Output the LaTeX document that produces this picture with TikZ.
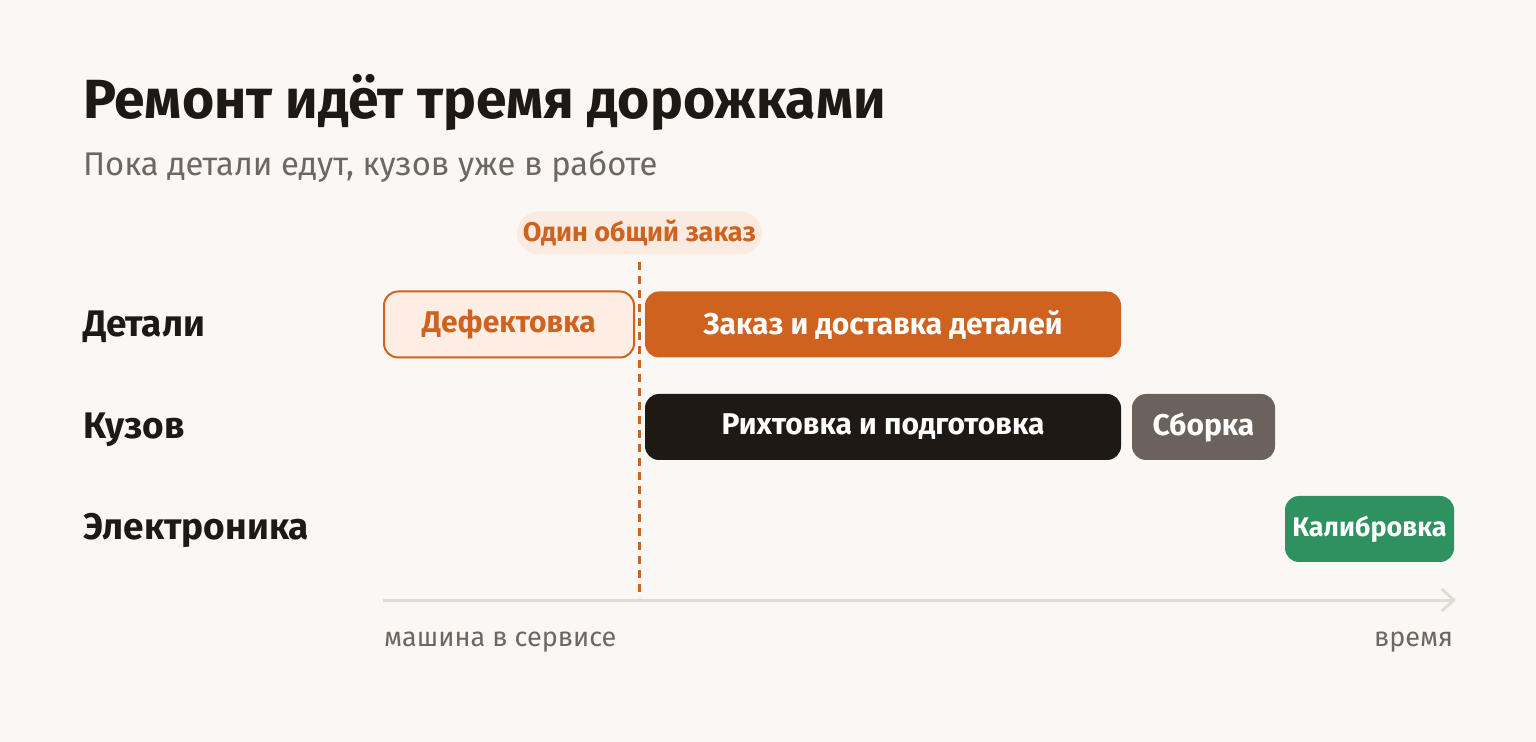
\documentclass[tikz,border=0pt]{standalone}
\usepackage{fontspec}
\setmainfont{Fira Sans}
\usepackage{xcolor}
\usetikzlibrary{arrows.meta,positioning,calc}
\definecolor{bgcol}{HTML}{FBF7F4}
\definecolor{inkcol}{HTML}{1E1915}
\definecolor{greycol}{HTML}{6E6661}
\definecolor{rustcol}{HTML}{D0621F}
\definecolor{peachcol}{HTML}{FDEDE2}
\definecolor{pillcol}{HTML}{FBEADF}
\definecolor{stonecol}{HTML}{6C625C}
\definecolor{leafcol}{HTML}{2E915F}
\definecolor{axiscol}{HTML}{E2DCD7}

\begin{document}
\begin{tikzpicture}[
	x=0.5pt, y=-0.5pt,
	every node/.style = {inner sep=0pt, outer sep=0pt},
	lane/.style = {anchor=base west, font=\fontsize{18.5}{22}\selectfont\bfseries, text=inkcol},
	bar/.style = {rounded corners=7pt, minimum height=33pt, align=center,
		font=\fontsize{15}{18}\selectfont\bfseries, text=white},
	note/.style = {font=\fontsize{13.5}{16}\selectfont, text=greycol}
]
\fill[bgcol] (0,0) rectangle (1536,742);
\useasboundingbox (0,0) rectangle (1536,742);

% heading
\node[anchor=base west, font=\fontsize{27.6}{32}\selectfont\bfseries, text=inkcol]
	(title) at (83,119) {Ремонт идёт тремя дорожками};
\node[anchor=base west, font=\fontsize{16.4}{19}\selectfont, text=greycol]
	(subtitle) at (83,176) {Пока детали едут, кузов уже в работе};

% lanes
\node[lane] (parts) at (83,337) {Детали};
\node[lane] (body) at (83,439) {Кузов};
\node[lane] (elec) at (83,540) {Электроника};

% milestone
\coordinate (cutTop) at (639,262);
\coordinate (cutBot) at (639,598);
\draw[rustcol, line width=1.5pt, dash pattern=on 4pt off 3pt] (cutTop) -- (cutBot);
\node[fill=pillcol, rounded corners=11pt, minimum width=122.5pt, minimum height=21.5pt,
	font=\fontsize{13.5}{16}\selectfont\bfseries, text=rustcol]
	(order) at (639.5,233) {Один общий заказ};

% bars
\node[bar, draw=rustcol, line width=1pt, fill=peachcol, text=rustcol, minimum width=125pt]
	(defect) at (509,324.5) {Дефектовка};
\node[bar, fill=rustcol, minimum width=238pt] (supply) at (883,324.5) {Заказ и доставка деталей};
\node[bar, fill=inkcol, minimum width=238pt] (prep) at (883,427) {Рихтовка и подготовка};
\node[bar, fill=stonecol, minimum width=71.5pt] (build) at (1203.5,427) {Сборка};
\node[bar, fill=leafcol, minimum width=84.5pt, font=\fontsize{13.5}{16}\selectfont\bfseries]
	(calib) at (1369.5,529) {Калибровка};

% time axis
\coordinate (axisL) at (383,600);
\coordinate (axisR) at (1456,600);
\draw[axiscol, line width=1.5pt, -{Straight Barb[length=6pt, width=11pt]}] (axisL) -- (axisR);
\node[note, anchor=base west] (start) at (384,646) {машина в сервисе};
\node[note, anchor=base east] (time) at (1453,646) {время};
\end{tikzpicture}
\end{document}
